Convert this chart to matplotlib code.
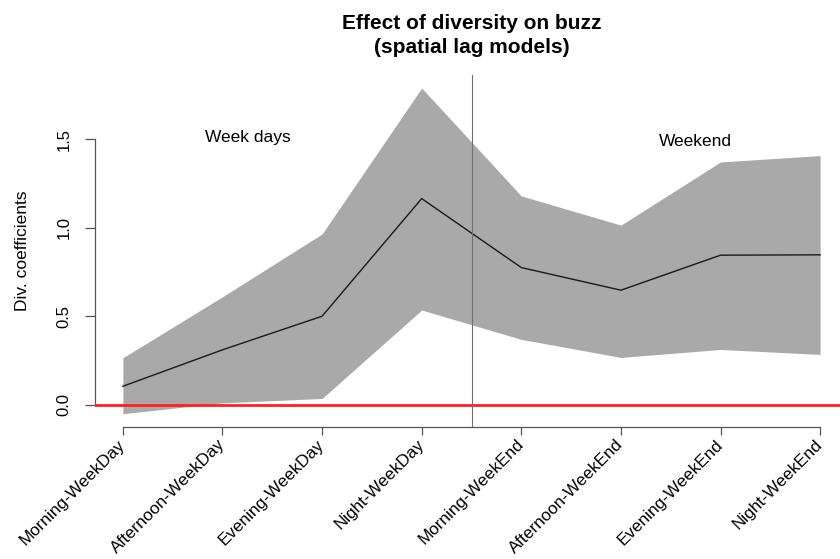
import numpy as np
import matplotlib
matplotlib.use("Agg")
import matplotlib.pyplot as plt

plt.rcParams['font.family'] = ['Liberation Sans', 'DejaVu Sans']

# periods of the day, week days then weekend
periods = ["Morning-WeekDay", "Afternoon-WeekDay", "Evening-WeekDay", "Night-WeekDay",
           "Morning-WeekEnd", "Afternoon-WeekEnd", "Evening-WeekEnd", "Night-WeekEnd"]

coef = [0.104, 0.31, 0.50, 1.165, 0.775, 0.647, 0.845, 0.847]
upper = [0.265, 0.61, 0.965, 1.79, 1.18, 1.015, 1.372, 1.408]
lower = [-0.051, 0.01, 0.035, 0.535, 0.369, 0.267, 0.312, 0.284]

y_ticks = [0.0, 0.5, 1.0, 1.5]


def make_plot():
    fig = plt.figure(figsize=(8.4, 5.59), dpi=100)
    ax = fig.add_axes([95 / 840, 1 - 426.7 / 559, 753 / 840, 351.7 / 559])

    x = np.arange(1, len(periods) + 1)

    # confidence band
    ax.fill_between(x, lower, upper, color="#a9a9a9", linewidth=0, zorder=1)
    ax.plot(x, coef, color="#1a1a1a", lw=1.0, zorder=2)

    # zero line and split between week days / weekend
    ax.axhline(0, color="#ff2020", lw=2.0, zorder=3)
    ax.axvline(4.5, color="#707070", lw=0.8, zorder=3)

    ax.text(2.25, 1.51, "Week days", ha="center", va="center", fontsize=12.5)
    ax.text(6.75, 1.49, "Weekend", ha="center", va="center", fontsize=12.5)

    # R-like limits (4% extension)
    lo, hi = min(lower), max(upper)
    ext = 0.04 * (hi - lo)
    ax.set_ylim(lo - ext, hi + ext)
    ax.set_xlim(1 - 0.04 * 7, 8 + 0.04 * 7)

    for s in ["top", "right"]:
        ax.spines[s].set_visible(False)
    ax.spines["left"].set_bounds(0, 1.5)
    ax.spines["bottom"].set_bounds(1, 8)
    for s in ["left", "bottom"]:
        ax.spines[s].set_color("#555555")
        ax.spines[s].set_linewidth(0.9)

    ax.set_yticks(y_ticks)
    ax.set_yticklabels(["%.1f" % v for v in y_ticks], rotation=90, va="center",
                       fontsize=12)
    ax.tick_params(axis="y", length=7, width=0.9, color="#555555", pad=10)

    ax.set_xticks(x)
    ax.set_xticklabels(periods, rotation=45, ha="right", va="center",
                       rotation_mode="anchor", fontsize=12.3)
    ax.tick_params(axis="x", length=6, width=0.9, color="#555555", pad=5)

    ax.set_ylabel("Div. coefficients", fontsize=12.5, labelpad=19)

    ax.set_title("Effect of diversity on buzz\n(spatial lag models)",
                 fontsize=15, fontweight="bold", linespacing=1.3, pad=16)

    fig.savefig("out.png", dpi=100)
    plt.close(fig)


if __name__ == "__main__":
    make_plot()
